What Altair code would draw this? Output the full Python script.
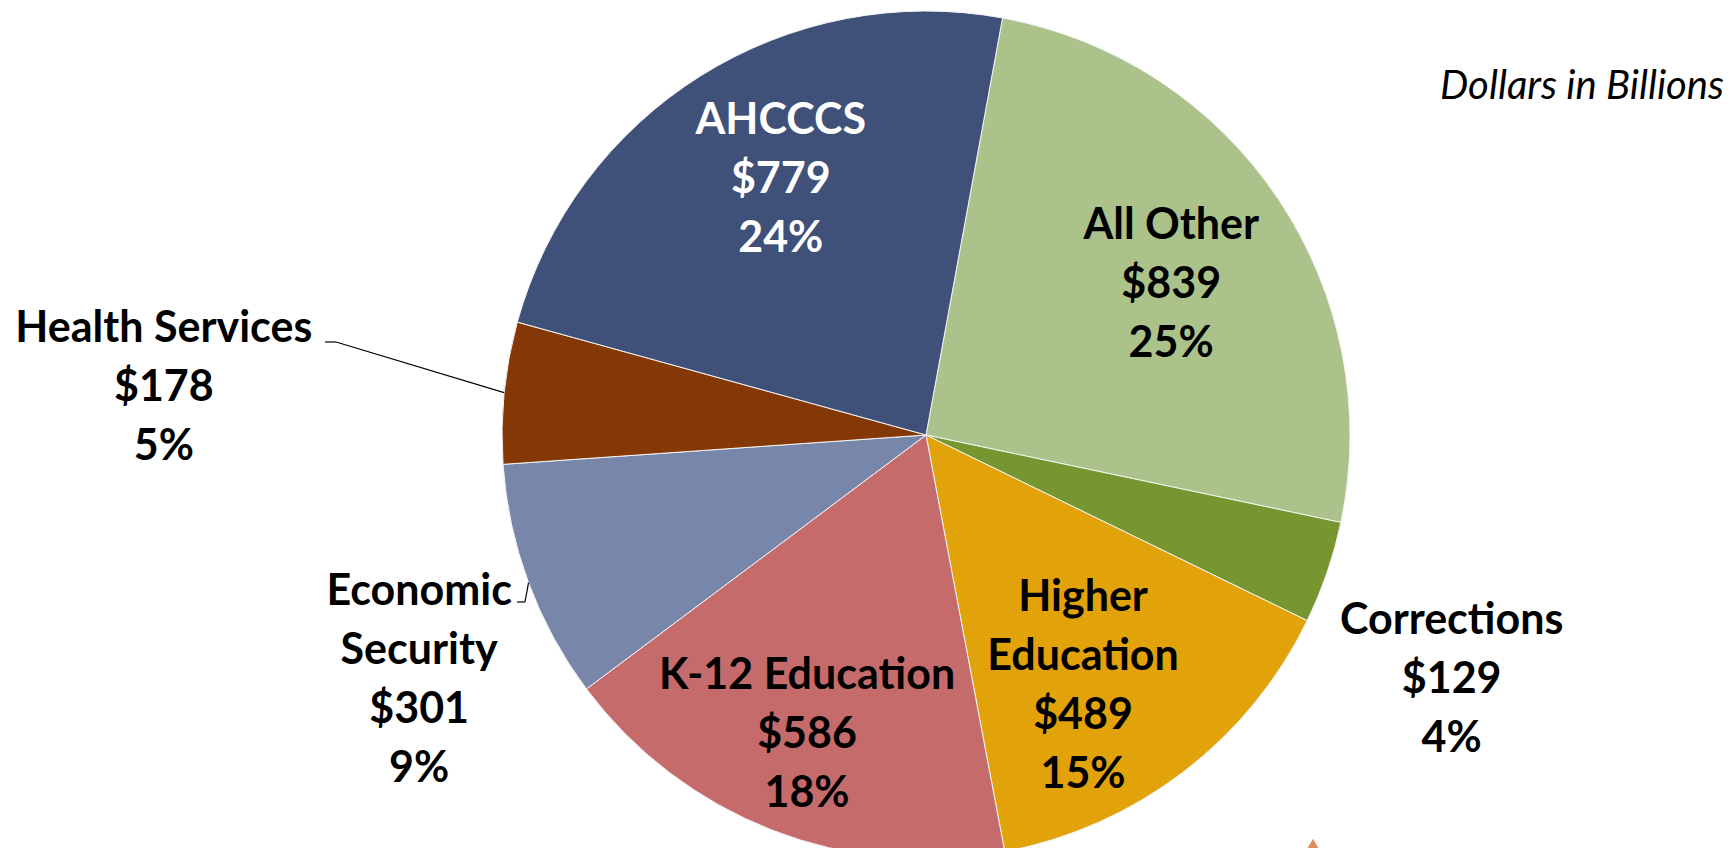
import math
import altair as alt
import pandas as pd

# ---- data ----
CATEGORIES = ["All Other", "Corrections", "Higher Education", "K-12 Education",
              "Economic Security", "Health Services", "AHCCCS"]
VALUES = [839, 129, 489, 586, 301, 178, 779]
LABEL_NAMES = ["All Other", "Corrections", "Higher\nEducation", "K-12 Education",
               "Economic\nSecurity", "Health Services", "AHCCCS"]
COLORS = ["#ABC38B", "#76972F", "#E1A20A", "#C66B6B", "#7886AA", "#833806", "#3F5079"]
UNIT_NOTE = "Dollars in Billions"

# ---- layout ----
W, H = 1719, 840
CX, CY, R = 918, 427, 424
OFF = math.radians(10.4)
FONT = "Lato"
FS = 43
LH = 59
# label placement: radius from centre, dx, dy, text colour
LABEL_LAYOUT = {
    "All Other": (288, 6, 10, "black"),
    "Corrections": (579, -22, 57, "black"),
    "Higher Education": (295, -22, 17, "black"),
    "K-12 Education": (320, -3, 2, "black"),
    "Economic Security": (561, 19, 50, "black"),
    "Health Services": (762, -4, 29, "black"),
    "AHCCCS": (296, 12, -4, "white"),
}

df = pd.DataFrame({"category": CATEGORIES, "value": VALUES,
                   "name": LABEL_NAMES, "order": list(range(len(VALUES)))})

theta_range = [OFF, OFF + 2 * math.pi]

base = (
    alt.Chart(df)
    .transform_window(cum="sum(value)", sort=[alt.SortField("order")], frame=[None, 0])
    .transform_joinaggregate(total="sum(value)")
    .transform_calculate(
        mid="(datum.cum - datum.value / 2) / datum.total",
        pct="round(datum.value / datum.total * 100)",
    )
    .transform_calculate(
        label="datum.name + '\\n$' + datum.value + '\\n' + datum.pct + '%'",
        ang=f"{OFF} + 2 * PI * datum.mid",
    )
    .transform_calculate(
        ex=f"{CX} + {R} * sin(datum.ang)",
        ey=f"{CY} - {R} * cos(datum.ang)",
    )
)

arcs = alt.Chart(df).mark_arc(radius=R, stroke="#f4f4f4", strokeWidth=1).encode(
    theta=alt.Theta("value:Q", stack=True, scale=alt.Scale(range=theta_range)),
    color=alt.Color("category:N", scale=alt.Scale(domain=CATEGORIES, range=COLORS), legend=None),
    order=alt.Order("order:Q"),
    x=alt.value(CX),
    y=alt.value(CY),
)

texts = []
for cat, name, (rad, dx, dy, col) in [(c, n, LABEL_LAYOUT[c]) for c, n in zip(CATEGORIES, LABEL_NAMES)]:
    n_lines = name.count("\n") + 3
    texts.append(
        base.transform_filter(alt.datum.category == cat)
        .mark_text(radius=rad, dx=dx, dy=dy - (n_lines - 1) * LH / 2, font=FONT,
                   fontWeight="bold", fontSize=FS, lineHeight=LH, lineBreak="\n",
                   align="center", baseline="middle", color=col)
        .encode(
            x=alt.value(CX),
            y=alt.value(CY),
            theta=alt.Theta("mid:Q", stack=False, scale=alt.Scale(domain=[0, 1], range=theta_range)),
            text="label:N",
        )
    )

# leader lines (edge of slice -> elbow -> label)
LEADERS = {
    "Health Services": ((328, 334), (317, 334)),
    "Economic Security": ((517, 594), (509, 594)),
}
leaders = []
for cat, ((ex2, ey2), (hx, hy)) in LEADERS.items():
    leaders.append(
        base.transform_filter(alt.datum.category == cat)
        .mark_rule(color="black", strokeWidth=1.2)
        .encode(
            x=alt.X("ex:Q", scale=None, axis=None),
            y=alt.Y("ey:Q", scale=None, axis=None),
            x2=alt.value(ex2),
            y2=alt.value(ey2),
        )
    )
    leaders.append(
        alt.Chart(pd.DataFrame({"k": [cat]}))
        .mark_rule(color="black", strokeWidth=1.2)
        .encode(x=alt.value(hx), x2=alt.value(ex2), y=alt.value(hy), y2=alt.value(hy))
    )

note = alt.Chart(pd.DataFrame({"t": [UNIT_NOTE]})).mark_text(
    font=FONT, fontStyle="italic", fontSize=40, align="center", baseline="middle", color="black"
).encode(x=alt.value(1574), y=alt.value(79), text="t:N")

logo = alt.Chart(pd.DataFrame({"k": ["logo"]})).mark_point(
    shape="triangle-up", filled=False, color="#D2601A", strokeWidth=5, size=1100
).encode(x=alt.value(1305), y=alt.value(850))

chart = (
    alt.layer(arcs, *leaders, *texts, note, logo)
    .resolve_scale(theta="independent")
    .properties(width=W, height=H, autosize=alt.AutoSizeParams(type="none"), padding=0)
    .configure_view(stroke=None)
)

chart.save("out.html", embed_options={"renderer": "svg", "actions": False})
